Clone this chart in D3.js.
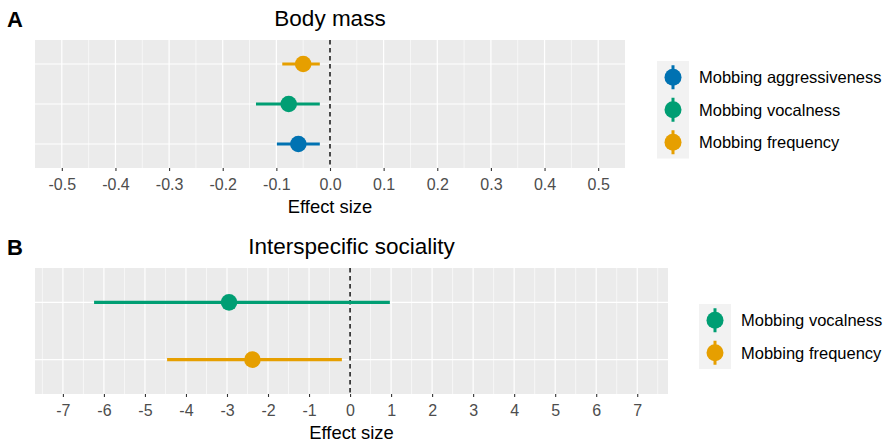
<!DOCTYPE html>
<html lang="en">
<head>
<meta charset="UTF-8">
<title>Effect sizes</title>
<script src="https://d3js.org/d3.v7.min.js"></script>
<style>
  body { margin: 0; background: #fff; }
  svg { display: block; font-family: "Liberation Sans", Arial, sans-serif; }
</style>
</head>
<body>
<svg id="chart"></svg>
<script>
  const width = 887, height = 445;

  // legend order, shared by both panels
  const traitOrder = ["Mobbing aggressiveness", "Mobbing vocalness", "Mobbing frequency"];
  const traitColours = ["#0072B2", "#009E73", "#E69F00"];

  // panel A: body mass (rows listed bottom to top)
  const massTraits = ["Mobbing aggressiveness", "Mobbing vocalness", "Mobbing frequency"];
  const massEst = [-0.059, -0.077, -0.050];
  const massLow = [-0.099, -0.138, -0.089];
  const massHigh = [-0.019, -0.019, -0.019];
  const massTicks = [-0.5, -0.4, -0.3, -0.2, -0.1, 0, 0.1, 0.2, 0.3, 0.4, 0.5];

  // panel B: interspecific sociality (rows listed bottom to top)
  const socTraits = ["Mobbing frequency", "Mobbing vocalness"];
  const socEst = [-2.38, -2.95];
  const socLow = [-4.46, -6.24];
  const socHigh = [-0.20, 0.97];
  const socTicks = [-7, -6, -5, -4, -3, -2, -1, 0, 1, 2, 3, 4, 5, 6, 7];

  const colour = d3.scaleOrdinal().domain(traitOrder).range(traitColours);

  const svg = d3.select("#chart").attr("width", width).attr("height", height);

  function drawPanel(p) {
    const g = svg.append("g");
    const x = d3.scaleLinear().domain(p.domain).range([p.left, p.right]);
    // first level sits at the bottom, like ggplot's discrete axis
    const y = d3.scalePoint().domain(p.traits).range([p.bottom, p.top]).padding(0.6);

    g.append("rect")
      .attr("x", p.left).attr("y", p.top)
      .attr("width", p.right - p.left).attr("height", p.bottom - p.top)
      .attr("fill", "#EBEBEB");

    // minor grid at half steps
    const minor = p.ticks.slice(0, -1).map((t, i) => (t + p.ticks[i + 1]) / 2);
    minor.push(p.ticks[0] - p.step / 2, p.ticks[p.ticks.length - 1] + p.step / 2);
    g.selectAll(".minor").data(minor.filter(v => v > p.domain[0] && v < p.domain[1]))
      .join("line")
      .attr("x1", d => x(d)).attr("x2", d => x(d))
      .attr("y1", p.top).attr("y2", p.bottom)
      .attr("stroke", "#fff").attr("stroke-width", 0.6);

    g.selectAll(".major").data(p.ticks).join("line")
      .attr("x1", d => x(d)).attr("x2", d => x(d))
      .attr("y1", p.top).attr("y2", p.bottom)
      .attr("stroke", "#fff").attr("stroke-width", 1.2);

    g.selectAll(".hgrid").data(p.traits).join("line")
      .attr("x1", p.left).attr("x2", p.right)
      .attr("y1", d => y(d)).attr("y2", d => y(d))
      .attr("stroke", "#fff").attr("stroke-width", 1.2);

    // zero reference
    g.append("line")
      .attr("x1", x(0)).attr("x2", x(0))
      .attr("y1", p.top).attr("y2", p.bottom)
      .attr("stroke", "#000").attr("stroke-width", 1.4)
      .attr("stroke-dasharray", "4.5,3.5");

    const rows = p.traits.map((t, i) => ({ trait: t, est: p.est[i], low: p.low[i], high: p.high[i] }));

    g.selectAll(".ci").data(rows).join("line")
      .attr("x1", d => x(d.low)).attr("x2", d => x(d.high))
      .attr("y1", d => y(d.trait)).attr("y2", d => y(d.trait))
      .attr("stroke", d => colour(d.trait)).attr("stroke-width", 3.2);

    g.selectAll(".pt").data(rows).join("circle")
      .attr("cx", d => x(d.est)).attr("cy", d => y(d.trait)).attr("r", 8.3)
      .attr("fill", d => colour(d.trait));

    // x axis
    const axis = g.append("g")
      .attr("transform", `translate(0,${p.bottom})`)
      .call(d3.axisBottom(x).tickValues(p.ticks).tickSize(3).tickPadding(7.5)
        .tickFormat(d => p.format(d).replace("\u2212", "-")))
      .attr("font-family", null).attr("font-size", null);
    axis.select(".domain").remove();
    axis.selectAll(".tick line").attr("stroke", "#333").attr("stroke-width", 1.1);
    axis.selectAll(".tick text").attr("fill", "#4D4D4D").attr("font-size", 16);

    g.append("text")
      .attr("x", (p.left + p.right) / 2).attr("y", p.bottom + 45)
      .attr("text-anchor", "middle").attr("font-size", 18.4).attr("fill", "#000")
      .text("Effect size");

    g.append("text")
      .attr("x", (p.left + p.right) / 2).attr("y", p.top - 14)
      .attr("text-anchor", "middle").attr("font-size", 22.5).attr("fill", "#000")
      .text(p.title);

    g.append("text")
      .attr("x", 7).attr("y", p.top - 13.5)
      .attr("font-size", 22).attr("font-weight", "bold").attr("fill", "#000")
      .text(p.tag);

    // legend
    const legendTraits = traitOrder.filter(t => p.traits.includes(t));
    const keyH = 32.5;
    const lg = g.append("g").attr("transform", `translate(${p.legendX},${p.legendY})`);
    lg.append("rect")
      .attr("width", 32).attr("height", keyH * legendTraits.length)
      .attr("fill", "#F2F2F2");
    const keys = lg.selectAll(".key").data(legendTraits).join("g")
      .attr("transform", (d, i) => `translate(16,${i * keyH + keyH / 2})`);
    keys.append("line")
      .attr("y1", -12).attr("y2", 12)
      .attr("stroke", d => colour(d)).attr("stroke-width", 3);
    keys.append("circle").attr("r", 8.5).attr("fill", d => colour(d));
    keys.append("text")
      .attr("x", 26).attr("dy", "0.35em")
      .attr("font-size", 16.5).attr("fill", "#000")
      .text(d => d);
  }

  drawPanel({
    tag: "A", title: "Body mass",
    traits: massTraits, est: massEst, low: massLow, high: massHigh,
    ticks: massTicks, step: 0.1, domain: [-0.55, 0.55],
    format: d3.format(".1f"),
    left: 35, right: 625, top: 40, bottom: 168,
    legendX: 657, legendY: 61
  });

  drawPanel({
    tag: "B", title: "Interspecific sociality",
    traits: socTraits, est: socEst, low: socLow, high: socHigh,
    ticks: socTicks, step: 1, domain: [-7.68, 7.75],
    format: d3.format("d"),
    left: 35, right: 668, top: 268, bottom: 394,
    legendX: 699, legendY: 304
  });
</script>
</body>
</html>
